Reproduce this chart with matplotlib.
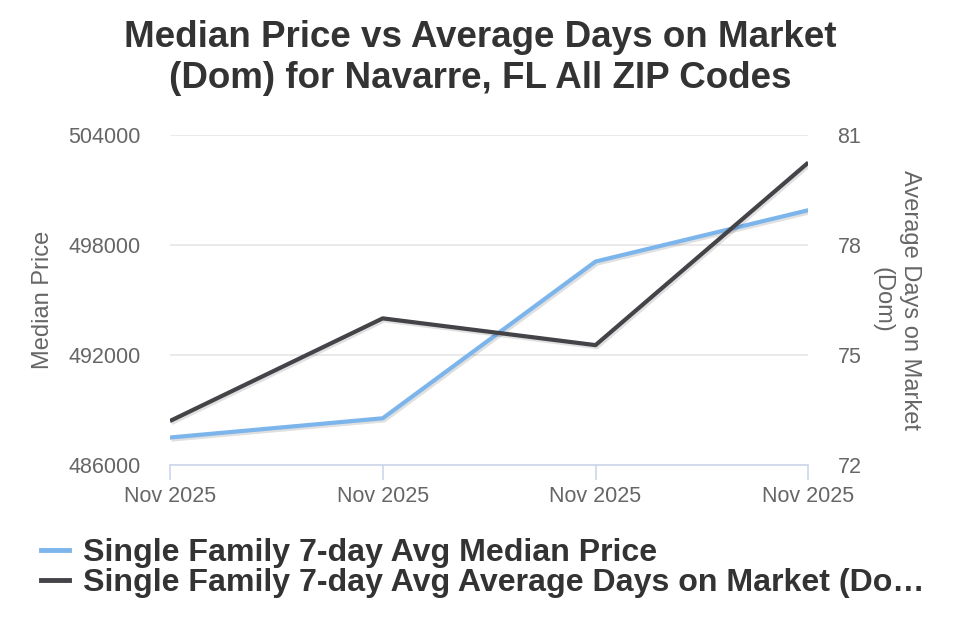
import matplotlib.pyplot as plt
import matplotlib.patheffects as pe
from matplotlib.lines import Line2D

plt.rcParams['font.family'] = ['Liberation Sans', 'DejaVu Sans']

dates = ["Nov 2025", "Nov 2025", "Nov 2025", "Nov 2025"]
median_price = [487500, 488550, 497100, 499900]
avg_dom = [73.2, 76.0, 75.27, 80.25]

price_ticks = [486000, 492000, 498000, 504000]
dom_ticks = [72, 75, 78, 81]

blue = '#7cb5ec'
dark = '#434348'
shadow = [pe.SimpleLineShadow(offset=(1, -1), alpha=0.12, shadow_color='k', linewidth=4), pe.Normal()]

fig = plt.figure(figsize=(9.6, 6.4), dpi=100)
ax = fig.add_axes([0.177, 0.2734, 0.665, 0.5156])
ax2 = ax.twinx()

x = list(range(len(dates)))
ax.plot(x, median_price, color=blue, lw=3, solid_capstyle='butt', path_effects=shadow, zorder=3)
ax2.plot(x, avg_dom, color=dark, lw=3, solid_capstyle='butt', path_effects=shadow, zorder=3)

ax.set_xlim(0, 3)
ax.set_ylim(486000, 504000)
ax2.set_ylim(72, 81)
ax.set_yticks(price_ticks)
ax.set_yticklabels([str(v) for v in price_ticks])
ax2.set_yticks(dom_ticks)
ax2.set_yticklabels([str(v) for v in dom_ticks])
ax.set_xticks(x)
ax.set_xticklabels(dates)

ax.grid(axis='y', color='#e6e6e6', lw=1.2)
ax.set_axisbelow(True)
for a in (ax, ax2):
    for s in a.spines.values():
        s.set_visible(False)
ax.spines['bottom'].set_visible(True)
ax.spines['bottom'].set_color('#ccd6eb')
ax.spines['bottom'].set_linewidth(1.2)

ax.tick_params(axis='x', colors='#ccd6eb', length=11, width=1.2, labelcolor='#666666',
               labelsize=15.5, pad=4)
ax.tick_params(axis='y', length=0, labelcolor='#666666', labelsize=15.5, pad=21)
ax2.tick_params(axis='y', length=0, labelcolor='#666666', labelsize=15.5, pad=21)

ax.set_ylabel('Median Price', color='#666666', fontsize=17, labelpad=10)
ax2.set_ylabel('Average Days on Market\n(Dom)', color='#666666', fontsize=17,
               rotation=270, labelpad=43, linespacing=1.35)

fig.suptitle('Median Price vs Average Days on Market\n(Dom) for Navarre, FL All ZIP Codes',
             y=0.968, fontsize=26.5, fontweight='bold', color='#333333', linespacing=1.2)

handles = [Line2D([0], [0], color=blue, lw=3.5), Line2D([0], [0], color=dark, lw=3.5)]
labels = ['Single Family 7-day Avg Median Price',
          'Single Family 7-day Avg Average Days on Market (Do…']
leg = fig.legend(handles, labels, loc='upper left', bbox_to_anchor=(0.029, 0.179),
                 frameon=False, fontsize=23.1, handlelength=0.88, handletextpad=0.43,
                 labelspacing=0.0, borderaxespad=0)
for t in leg.get_texts():
    t.set_color('#333333')
    t.set_fontweight('bold')

fig.savefig('out.png', dpi=100)
